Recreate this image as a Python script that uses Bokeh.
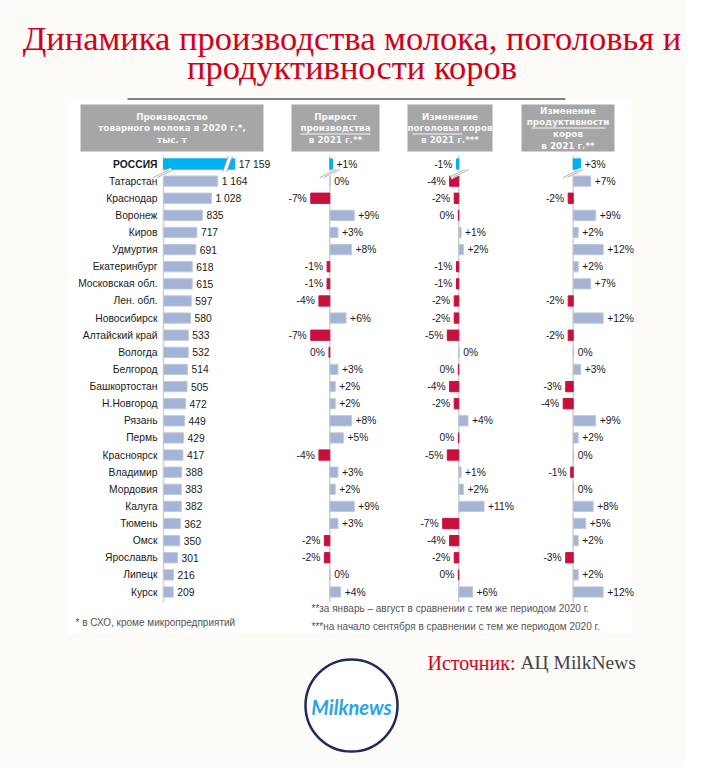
from bokeh.plotting import figure
from bokeh.models import Range1d, ColumnDataSource
from bokeh.core.properties import value
from bokeh.embed import file_html
from bokeh.resources import INLINE

# ---------------- data ----------------
regions = ["РОССИЯ", "Татарстан", "Краснодар", "Воронеж", "Киров", "Удмуртия",
           "Екатеринбург", "Московская обл.", "Лен. обл.", "Новосибирск",
           "Алтайский край", "Вологда", "Белгород", "Башкортостан", "Н.Новгород",
           "Рязань", "Пермь", "Красноярск", "Владимир", "Мордовия", "Калуга",
           "Тюмень", "Омск", "Ярославль", "Липецк", "Курск"]
milk_2020 = [17159, 1164, 1028, 835, 717, 691, 618, 615, 597, 580, 533, 532, 514,
             505, 472, 449, 429, 417, 388, 383, 382, 362, 350, 301, 216, 209]
prod_growth = [1, 0.2, -7, 9, 3, 8, -1, -1, -4, 6, -7, -0.3, 3, 2, 2, 8, 5, -4,
               3, 2, 9, 3, -2, -2, 0.2, 4]
herd_change = [-1, -4, -2, -0.2, 1, 2, -1, -1, -2, -2, -5, 0.2, -0.2, -4, -2, 4,
               -0.2, -5, 1, 2, 11, -7, -4, -2, -0.2, 6]
yield_change = [3, 7, -2, 9, 2, 12, 2, 7, -2, 12, -2, 0.2, 3, -3, -4, 9, 2, 0.2,
                -1, 0.2, 8, 5, 2, -3, 2, 12]

title_lines = ["Динамика производства молока, поголовья и", "продуктивности коров"]
footnote_1 = "* в СХО, кроме микропредприятий"
footnote_2 = "**за январь – август в сравнении с тем же периодом 2020 г."
footnote_3 = "***на начало сентября в сравнении с тем же периодом 2020 г."

# ---------------- style ----------------
BG = "#fcfbf8"
RED_TITLE = "#d0021b"
BAR_BLUE = "#a3b4d7"
BAR_LINE = "#c3c8d2"
NEG_RED = "#c8103e"
RUS_BLUE = "#00b0f0"
HEADER_GREY = "#a6a6a6"
AXIS_GREY = "#d3d3d3"
TEXT = "#1a1a1a"
SANS = value("Liberation Sans")
LBL = "10.3px"

W, H = 687, 766
Y0, PITCH = 163.5, 17.12          # image y of first row, row pitch (px)
BAR_H = 0.6
RUS_CAP = 1530                    # display length of the truncated Russia bar

cols = {"c1": (163.0, 0.0466), "c2": (329.3, 2.72), "c3": (458.3, 2.3), "c4": (572.7, 2.5)}

p = figure(width=W, height=H, x_range=Range1d(0, W), y_range=Range1d(H, 0),
           output_backend="svg", toolbar_location=None, min_border=0,
           x_axis_type=None, y_axis_type=None, background_fill_color=BG,
           border_fill_color=BG, outline_line_color=None)
p.grid.visible = False
p.extra_y_ranges = {"rows": Range1d(start=(H - Y0) / PITCH, end=(0 - Y0) / PITCH)}
p.extra_x_ranges = {k: Range1d(start=(0 - x0) / s, end=(W - x0) / s) for k, (x0, s) in cols.items()}

def row_y(i):
    return Y0 + i * PITCH

# white panel + top rule
p.quad(left=[67], right=[632], top=[98], bottom=[633], fill_color="white", line_color=None)
p.segment(x0=[127], y0=[98.5], x1=[565], y1=[98.5], line_color="#5a5a5a", line_width=1.3)

# title
for k, t in enumerate(title_lines):
    p.text(x=[351.5], y=[37 + 29 * k], text=[t], text_align="center", text_baseline="middle",
           text_font=value("Liberation Serif"), text_font_size="34.5px", text_color=RED_TITLE)

# header boxes
headers = [
    (80, 263, ["Производство", "товарного молока в 2020 г.*,", "тыс. т"], 116),
    (291, 379, ["Прирост", "производства", "в 2021 г.**"], 116),
    (407, 492, ["Изменение", "поголовья коров", "в 2021 г.***"], 116),
    (521, 614, ["Изменение", "продуктивности", "коров", "в 2021 г.**"], 110),
]
for (l, r, lines, ytop) in headers:
    p.quad(left=[l], right=[r], top=[104], bottom=[151], fill_color=HEADER_GREY, line_color=None)
    cx = (l + r) / 2
    for j, t in enumerate(lines):
        p.text(x=[cx], y=[ytop + 11.8 * j], text=[t], text_align="center", text_baseline="middle",
               text_font=value("DejaVu Sans"), text_font_style="bold", text_font_size="8.8px",
               text_color="#f7f7f7")
# underlines
p.segment(x0=[300, 412, 531], y0=[133.5, 133.5, 127.5], x1=[370, 462, 605], y1=[133.5, 133.5, 127.5],
          line_color="#f7f7f7", line_width=1)

# axis lines
for k, (x0, s) in cols.items():
    p.segment(x0=[0], x1=[0], y0=[-0.5], y1=[25.6], x_range_name=k, y_range_name="rows",
              line_color=AXIS_GREY, line_width=1.6)

idx = list(range(len(regions)))

# region labels
p.text(x=[157] * (len(regions) - 1), y=idx[1:], text=regions[1:], y_range_name="rows",
       text_align="right", text_baseline="middle", text_font=SANS, text_font_size=LBL,
       text_color=TEXT)
p.text(x=[157], y=[0], text=regions[:1], y_range_name="rows", text_align="right",
       text_baseline="middle", text_font=SANS, text_font_size=LBL, text_font_style="bold",
       text_color=TEXT)

# column 1: production
shown = [min(v, RUS_CAP) for v in milk_2020]
src1 = ColumnDataSource(dict(y=idx, right=shown,
                             color=[RUS_BLUE if i == 0 else BAR_BLUE for i in idx],
                             lc=[RUS_BLUE if i == 0 else BAR_LINE for i in idx],
                             lab=[f"{v:,}".replace(",", " ") for v in milk_2020]))
p.hbar(y="y", left=0, right="right", height=BAR_H, fill_color="color", line_color="lc",
       source=src1, x_range_name="c1", y_range_name="rows")
p.text(x="right", y="y", text="lab", source=src1, x_offset=4, x_range_name="c1",
       y_range_name="rows", text_baseline="middle", text_font=SANS, text_font_size=LBL,
       text_color=TEXT)

def pct(v):
    r = int(round(v))
    if r > 0:
        return f"+{r}%"
    return f"{r}%" if r < 0 else "0%"

def change_col(vals, rng):
    fill = [RUS_BLUE if i == 0 else (NEG_RED if v < 0 else BAR_BLUE) for i, v in zip(idx, vals)]
    line = [RUS_BLUE if i == 0 else (NEG_RED if v < 0 else BAR_LINE) for i, v in zip(idx, vals)]
    src = ColumnDataSource(dict(y=idx, left=[min(0, v) for v in vals], right=[max(0, v) for v in vals],
                                fill=fill, line=line))
    p.hbar(y="y", left="left", right="right", height=BAR_H, fill_color="fill", line_color="line",
           source=src, x_range_name=rng, y_range_name="rows")
    pos = [(i, v) for i, v in zip(idx, vals) if v >= 0]
    neg = [(i, v) for i, v in zip(idx, vals) if v < 0]
    p.text(x=[v for _, v in pos], y=[i for i, _ in pos], text=[pct(v) for _, v in pos],
           x_offset=4, x_range_name=rng, y_range_name="rows", text_baseline="middle",
           text_font=SANS, text_font_size=LBL, text_color=TEXT)
    p.text(x=[v for _, v in neg], y=[i for i, _ in neg], text=[pct(v) for _, v in neg],
           x_offset=-4, text_align="right", x_range_name=rng, y_range_name="rows",
           text_baseline="middle", text_font=SANS, text_font_size=LBL, text_color=TEXT)

change_col(prod_growth, "c2")
change_col(herd_change, "c3")
change_col(yield_change, "c4")

# break marks (Russia row truncated / scale break)
def slash(xc, yc, dx=8, dy=4):
    p.segment(x0=[xc - dx], y0=[yc + dy], x1=[xc + dx], y1=[yc - dy], line_color="white", line_width=4)
    for off in (-2, 2):
        p.segment(x0=[xc - dx + off], y0=[yc + dy], x1=[xc + dx + off], y1=[yc - dy],
                  line_color="#9a9a9a", line_width=0.8)

yb = row_y(0.5)
for k, (x0, s) in cols.items():
    slash(x0, yb + 1)
slash(227, row_y(0), dx=3, dy=8)

# footnotes
p.text(x=[75], y=[622], text=[footnote_1], text_baseline="middle", text_font=SANS,
       text_font_size="10px", text_color="#555555")
p.text(x=[311], y=[608], text=[footnote_2], text_baseline="middle", text_font=SANS,
       text_font_size="10px", text_color="#555555")
p.text(x=[311], y=[626], text=[footnote_3], text_baseline="middle", text_font=SANS,
       text_font_size="10px", text_color="#555555")

# source
p.text(x=[427], y=[662], text=["Источник:"], text_baseline="middle",
       text_font=value("Liberation Serif"), text_font_size="20px", text_color=RED_TITLE)
p.text(x=[520], y=[662], text=["АЦ MilkNews"], text_baseline="middle",
       text_font=value("Liberation Serif"), text_font_size="19.5px", text_color="#444444")

# logo
p.scatter(x=[351], y=[705], marker="circle", size=92, fill_color="white",
          line_color="#1f2b5b", line_width=2.5)
p.text(x=[351], y=[706], text=["Milknews"], text_align="center", text_baseline="middle",
       text_font=value("Lato"), text_font_style="bold italic", text_font_size="20px",
       text_color="#2aa3ea")

open("out.html", "w").write(file_html(p, INLINE))
